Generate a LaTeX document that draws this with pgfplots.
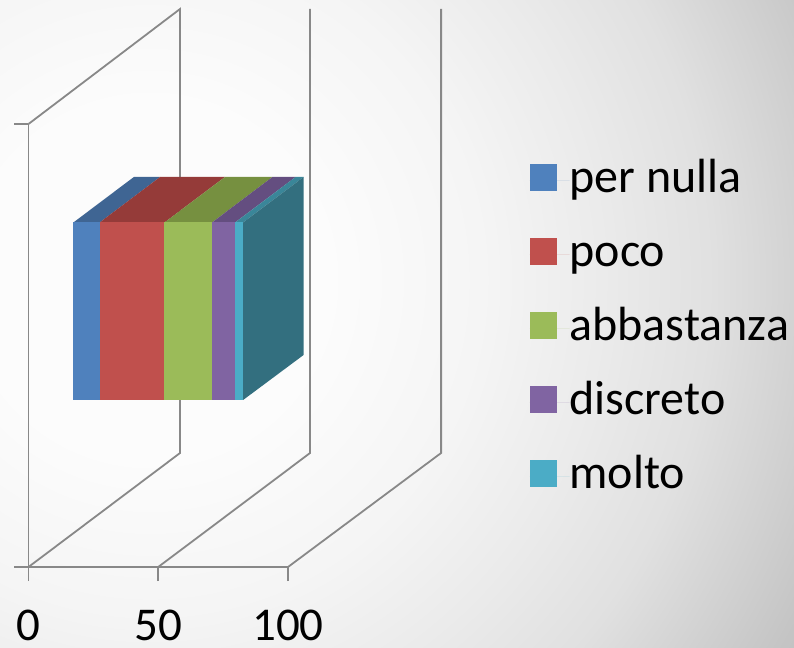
\documentclass[border=0pt]{standalone}
\usepackage{fontspec}
\setmainfont{Carlito}
\usepackage{pgfplots}
\pgfplotsset{compat=1.18}

\definecolor{wallgray}{HTML}{888888}
\definecolor{cblue}{HTML}{4F81BD}
\definecolor{cred}{HTML}{C0504D}
\definecolor{cgreen}{HTML}{9BBB59}
\definecolor{cpurple}{HTML}{8064A2}
\definecolor{cteal}{HTML}{4BACC6}
\definecolor{tblue}{HTML}{3F6593}
\definecolor{tred}{HTML}{953B39}
\definecolor{tgreen}{HTML}{769040}
\definecolor{tpurple}{HTML}{644E80}
\definecolor{tteal}{HTML}{3A8699}
\definecolor{steal}{HTML}{336F7F}

\pgfdeclareradialshading{bgshade}{\pgfpointorigin}{%
  color(0bp)=(black!1);
  color(5.5bp)=(black!1);
  color(11bp)=(black!4);
  color(15bp)=(black!8);
  color(18.5bp)=(black!12);
  color(24bp)=(black!23);
  color(28bp)=(black!29);
  color(50bp)=(black!29)}

\begin{document}
\begin{tikzpicture}[x=1pt,y=1pt]
\useasboundingbox (0,0) rectangle (794,647);
\begin{scope}
  \clip (0,0) rectangle (794,647);
  \shade[shading=bgshade] (150,367) circle (760);
\end{scope}
\begin{axis}[
  at={(28.5pt,80pt)}, anchor=origin,
  scale only axis, width=259.5pt, height=443pt,
  xmin=0, xmax=100, ymin=0, ymax=443,
  clip=false,
  axis x line=bottom, axis y line=left,
  axis line style={wallgray, line width=1.8pt, -},
  xtick={0,50,100}, ytick={0,443}, yticklabels={},
  tick align=outside, major tick length=14pt,
  tick style={wallgray, line width=1.8pt},
  /pgf/number format/assume math mode=true,
  ticklabel style={font=\fontsize{47}{50}\selectfont, black},
  xticklabel style={inner sep=0pt, yshift=-29pt},
  legend image code/.code={\fill[#1] (0pt,-10pt) rectangle (27pt,17pt); \path (0pt,0pt) -- (40pt,0pt);},
  legend style={at={(axis cs:193,410)}, anchor=north west, draw=none, fill=none,
    inner sep=0pt, row sep=27pt, font=\fontsize{48}{50}\selectfont,
    nodes={inner sep=0pt, text height=35pt, text depth=12pt}},
  legend cell align=left,
]
% back wall lines
\addplot[forget plot, wallgray, line width=1.8pt] coordinates {(0,0) (58.4,114) (58.4,558) (0,443)};
\addplot[forget plot, wallgray, line width=1.8pt] coordinates {(50,0) (108.5,114) (108.5,558)};
\addplot[forget plot, wallgray, line width=1.8pt] coordinates {(100,0) (159,114) (159,558)};
% top faces
\addplot[forget plot, fill=tblue, draw=none] coordinates {(17.3,344.5) (27.4,344.5) (50.7,390) (40.6,390)} --cycle;
\addplot[forget plot, fill=tred, draw=none] coordinates {(27.4,344.5) (52.4,344.5) (75.7,390) (50.7,390)} --cycle;
\addplot[forget plot, fill=tgreen, draw=none] coordinates {(52.4,344.5) (70.7,344.5) (94,390) (75.7,390)} --cycle;
\addplot[forget plot, fill=tpurple, draw=none] coordinates {(70.7,344.5) (79.6,344.5) (102.9,390) (94,390)} --cycle;
\addplot[forget plot, fill=tteal, draw=none] coordinates {(79.6,344.5) (82.7,344.5) (106,390) (102.9,390)} --cycle;
% right side
\addplot[forget plot, fill=steal, draw=none] coordinates {(82.7,167) (106,212) (106,390) (82.7,344.5)} --cycle;
% front faces
\addplot[fill=cblue, draw=none] coordinates {(17.3,167) (27.4,167) (27.4,344.5) (17.3,344.5)} --cycle;
\addplot[fill=cred, draw=none] coordinates {(27.4,167) (52.4,167) (52.4,344.5) (27.4,344.5)} --cycle;
\addplot[fill=cgreen, draw=none] coordinates {(52.4,167) (70.7,167) (70.7,344.5) (52.4,344.5)} --cycle;
\addplot[fill=cpurple, draw=none] coordinates {(70.7,167) (79.6,167) (79.6,344.5) (70.7,344.5)} --cycle;
\addplot[fill=cteal, draw=none] coordinates {(79.6,167) (82.7,167) (82.7,344.5) (79.6,344.5)} --cycle;
\legend{per nulla, poco, abbastanza, discreto, molto}
\end{axis}
\end{tikzpicture}
\end{document}
